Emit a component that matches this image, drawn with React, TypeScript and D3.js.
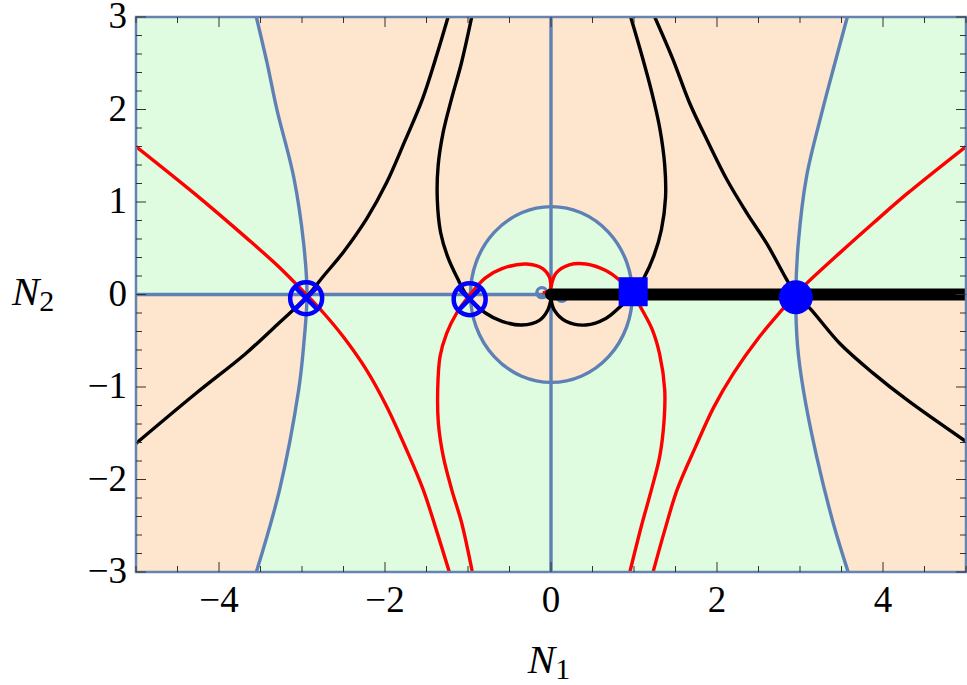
import React from "react";
import * as d3 from "d3";

const width = 967;
const height = 685;
const plot = { left: 136, right: 966, top: 17, bottom: 572 };

// contour lines, [N1, N2] pairs
const blueLeft = [[-3.55, 3], [-3.42, 2.5], [-3.3, 1.99], [-3.1, 1.27], [-2.98, 0.55], [-2.94, 0], [-2.98, -0.55], [-3.04, -1.03], [-3.27, -2.11], [-3.55, -3]];
const blueRight = [[3.57, 3], [3.42, 2.5], [3.27, 1.99], [3.08, 1.28], [2.98, 0.56], [2.95, 0], [2.97, -0.55], [3.04, -1.03], [3.2, -1.75], [3.4, -2.47], [3.58, -3]];
const ellipse = { cx: 0.005, cy: 0, rx: 0.975, ry: 0.95 };
const blueAxisH = [[-5, 0], [5, 0]];
const blueAxisV = [[0, -3], [0, 3]];
const smallRings = [[-0.11, 0.02], [0.13, -0.02]];

const redOuterLeft = [[-5, 1.6], [-4.28, 1.08], [-3.68, 0.62], [-3.28, 0.3], [-2.96, 0.01], [-2.74, -0.2], [-2.5, -0.46], [-2.22, -0.82], [-1.98, -1.21], [-1.74, -1.68], [-1.54, -2.11], [-1.38, -2.55], [-1.225, -3]];
const redInnerLeft = [[-0.948, -3], [-1.076, -2.47], [-1.196, -2.11], [-1.298, -1.75], [-1.357, -1.39], [-1.365, -1.03], [-1.337, -0.67], [-1.257, -0.42], [-1.136, -0.2], [-1.0, -0.03], [-0.79, 0.18], [-0.59, 0.28], [-0.3, 0.33], [-0.1, 0.28], [-0.02, 0.19], [0, 0.08]];
const redInnerRight = [[0, 0.08], [0.06, 0.23], [0.22, 0.32], [0.42, 0.33], [0.66, 0.26], [0.82, 0.16], [0.99, 0], [1.1, -0.17], [1.22, -0.38], [1.31, -0.65], [1.37, -1.03], [1.36, -1.39], [1.31, -1.75], [1.21, -2.11], [1.09, -2.5], [0.95, -3]];
const redOuterRight = [[5, 1.6], [4.29, 1.09], [3.88, 0.77], [3.48, 0.45], [3.08, 0.12], [2.95, 0], [2.78, -0.17], [2.5, -0.47], [2.2, -0.85], [1.96, -1.22], [1.74, -1.65], [1.52, -2.11], [1.37, -2.55], [1.23, -3]];
const redStub = [[0, 0.08], [-0.03, 0.03], [-0.1, 0.02]];

const blackOuterLeft = [[-5, -1.61], [-4.28, -1.07], [-3.68, -0.64], [-3.28, -0.31], [-2.96, -0.04], [-2.74, 0.2], [-2.5, 0.46], [-2.22, 0.82], [-1.98, 1.21], [-1.76, 1.66], [-1.55, 2.11], [-1.39, 2.55], [-1.24, 3]];
const blackInnerLeft = [[-0.955, 3], [-1.08, 2.5], [-1.2, 2.11], [-1.3, 1.75], [-1.36, 1.39], [-1.37, 1.03], [-1.33, 0.67], [-1.25, 0.42], [-1.13, 0.18], [-1.0, -0.03], [-0.79, -0.2], [-0.59, -0.29], [-0.35, -0.33], [-0.14, -0.28], [-0.04, -0.17], [0, -0.05]];
const blackInnerRight = [[0, -0.05], [0.04, -0.17], [0.18, -0.29], [0.42, -0.33], [0.66, -0.26], [0.86, -0.11], [0.99, 0], [1.12, 0.18], [1.24, 0.42], [1.33, 0.7], [1.38, 1.05], [1.37, 1.4], [1.31, 1.8], [1.21, 2.2], [1.09, 2.6], [0.96, 3]];
const blackOuterRight = [[1.25, 3], [1.47, 2.54], [1.67, 2.07], [1.88, 1.67], [2.12, 1.24], [2.36, 0.88], [2.6, 0.55], [2.84, 0.16], [2.95, 0], [3.12, -0.15], [3.48, -0.53], [3.88, -0.85], [4.29, -1.14], [5, -1.59]];
const blackRay = [[0, 0], [5.2, 0]];

// markers
const crossMarkers = [[-2.95, -0.04], [-0.98, -0.05]];
const squareMarker = [0.99, 0.03];
const discMarker = [2.95, -0.03];

// ticks
const xMajor = [-4, -2, 0, 2, 4];
const xMinor = d3.range(-5, 5.01, 0.5);
const yMajor = [-3, -2, -1, 0, 1, 2, 3];
const yMinor = d3.range(-3, 3.01, 0.2);

const peach = "#FEE5CD";
const green = "#E0FCE0";
const steel = "#5E81B5";
const lw = 3.4;

const fmt = (v) => (v < 0 ? "\u2212" + Math.abs(v) : String(v));

export default function App() {
  const x = d3.scaleLinear().domain([-5, 5]).range([plot.left, plot.right]);
  const y = d3.scaleLinear().domain([-3, 3]).range([plot.bottom, plot.top]);
  const smooth = d3.curveCatmullRom.alpha(0.5);
  const line = d3
    .line()
    .x((d) => x(d[0]))
    .y((d) => y(d[1]))
    .curve(smooth);
  const straight = d3
    .line()
    .x((d) => x(d[0]))
    .y((d) => y(d[1]));

  const areaLeft = d3
    .area()
    .y((d) => y(d[1]))
    .x0(x(-5))
    .x1((d) => x(d[0]))
    .curve(smooth);
  const areaRight = d3
    .area()
    .y((d) => y(d[1]))
    .x0((d) => x(d[0]))
    .x1(x(5))
    .curve(smooth);

  const erx = x(ellipse.rx) - x(0);
  const ery = y(0) - y(ellipse.ry);
  const ex0 = x(ellipse.cx - ellipse.rx);
  const ex1 = x(ellipse.cx + ellipse.rx);
  const ey = y(ellipse.cy);
  const ellipseUpper = `M${ex0},${ey} A${erx},${ery} 0 0 1 ${ex1},${ey} Z`;
  const ellipseLower = `M${ex0},${ey} A${erx},${ery} 0 0 0 ${ex1},${ey} Z`;

  const redCurves = [redOuterLeft, redInnerLeft, redInnerRight, redOuterRight, redStub];
  const blackCurves = [blackOuterLeft, blackInnerLeft, blackInnerRight, blackOuterRight];

  const font = "'Liberation Serif', 'DejaVu Serif', 'Times New Roman', serif";
  const tickStyle = { fontFamily: font, fontSize: 37 };
  const labelStyle = { fontFamily: font, fontSize: 41, fontStyle: "italic" };
  const subStyle = { fontFamily: font, fontSize: 30, fontStyle: "normal" };

  return (
    <svg width={width} height={height} style={{ position: "absolute", left: 0, top: 0, background: "#fff" }}>
      <defs>
        <clipPath id="plotClip">
          <rect x={plot.left} y={plot.top} width={plot.right - plot.left} height={plot.bottom - plot.top} />
        </clipPath>
      </defs>
      <g clipPath="url(#plotClip)">
        {/* regions */}
        <rect x={plot.left} y={plot.top} width={plot.right - plot.left} height={y(0) - plot.top} fill={peach} />
        <rect x={plot.left} y={y(0)} width={plot.right - plot.left} height={plot.bottom - y(0)} fill={green} />
        <path d={areaLeft(blueLeft.filter((d) => d[1] >= 0))} fill={green} />
        <path d={areaLeft(blueLeft.filter((d) => d[1] <= 0))} fill={peach} />
        <path d={areaRight(blueRight.filter((d) => d[1] >= 0))} fill={green} />
        <path d={areaRight(blueRight.filter((d) => d[1] <= 0))} fill={peach} />
        <path d={ellipseUpper} fill={green} />
        <path d={ellipseLower} fill={peach} />

        {/* steel contours */}
        <g fill="none" stroke={steel} strokeWidth={lw}>
          <path d={straight(blueAxisH)} />
          <path d={straight(blueAxisV)} />
          <path d={line(blueLeft)} />
          <path d={line(blueRight)} />
          <ellipse cx={x(ellipse.cx)} cy={y(ellipse.cy)} rx={erx} ry={ery} />
          {smallRings.map((d, i) => (
            <circle key={i} cx={x(d[0])} cy={y(d[1])} r={5} />
          ))}
        </g>

        <g fill="none" stroke="#FF0000" strokeWidth={lw}>
          {redCurves.map((c, i) => (
            <path key={i} d={line(c)} />
          ))}
        </g>
        <g fill="none" stroke="#000" strokeWidth={lw}>
          {blackCurves.map((c, i) => (
            <path key={i} d={line(c)} />
          ))}
        </g>
        <path d={straight(blackRay)} stroke="#000" strokeWidth={12} strokeLinecap="round" fill="none" />

        {/* markers */}
        {crossMarkers.map((d, i) => {
          const cx = x(d[0]);
          const cy = y(d[1]);
          const a = 11.5;
          return (
            <g key={i} stroke="#0000FF" strokeWidth={4.5} fill="none">
              <circle cx={cx} cy={cy} r={16} />
              <line x1={cx - a} y1={cy - a} x2={cx + a} y2={cy + a} />
              <line x1={cx - a} y1={cy + a} x2={cx + a} y2={cy - a} />
            </g>
          );
        })}
        <rect x={x(squareMarker[0]) - 14.5} y={y(squareMarker[1]) - 14.5} width={29} height={29} fill="#0000FF" />
        <circle cx={x(discMarker[0])} cy={y(discMarker[1])} r={17} fill="#0000FF" />
      </g>

      {/* frame */}
      <rect
        x={plot.left}
        y={plot.top}
        width={plot.right - plot.left}
        height={plot.bottom - plot.top}
        fill="none"
        stroke="#6684B2"
        strokeWidth={2.5}
      />

      {/* ticks */}
      <g stroke="#333" strokeWidth={1}>
        {xMinor.map((v, i) => {
          const len = xMajor.some((m) => Math.abs(m - v) < 1e-6) ? 10 : 6;
          return (
            <g key={"x" + i}>
              <line x1={x(v)} x2={x(v)} y1={plot.bottom} y2={plot.bottom - len} />
              <line x1={x(v)} x2={x(v)} y1={plot.top} y2={plot.top + len} />
            </g>
          );
        })}
        {yMinor.map((v, i) => {
          const len = yMajor.some((m) => Math.abs(m - v) < 1e-6) ? 10 : 6;
          return (
            <g key={"y" + i}>
              <line x1={plot.left} x2={plot.left + len} y1={y(v)} y2={y(v)} />
              <line x1={plot.right} x2={plot.right - len} y1={y(v)} y2={y(v)} />
            </g>
          );
        })}
      </g>

      {/* tick labels */}
      {xMajor.map((v) => (
        <text key={"xl" + v} x={x(v)} y={plot.bottom + 40} textAnchor="middle" style={tickStyle}>
          {fmt(v)}
        </text>
      ))}
      {yMajor.map((v) => (
        <text key={"yl" + v} x={plot.left - 9} y={y(v) + 11} textAnchor="end" style={tickStyle}>
          {fmt(v)}
        </text>
      ))}

      {/* axis labels */}
      <text x={x(0) - 2} y={673} textAnchor="middle" style={labelStyle}>
        N<tspan dy={6} style={subStyle}>1</tspan>
      </text>
      <text x={12} y={305} style={labelStyle}>
        N<tspan dy={6} style={subStyle}>2</tspan>
      </text>
    </svg>
  );
}
